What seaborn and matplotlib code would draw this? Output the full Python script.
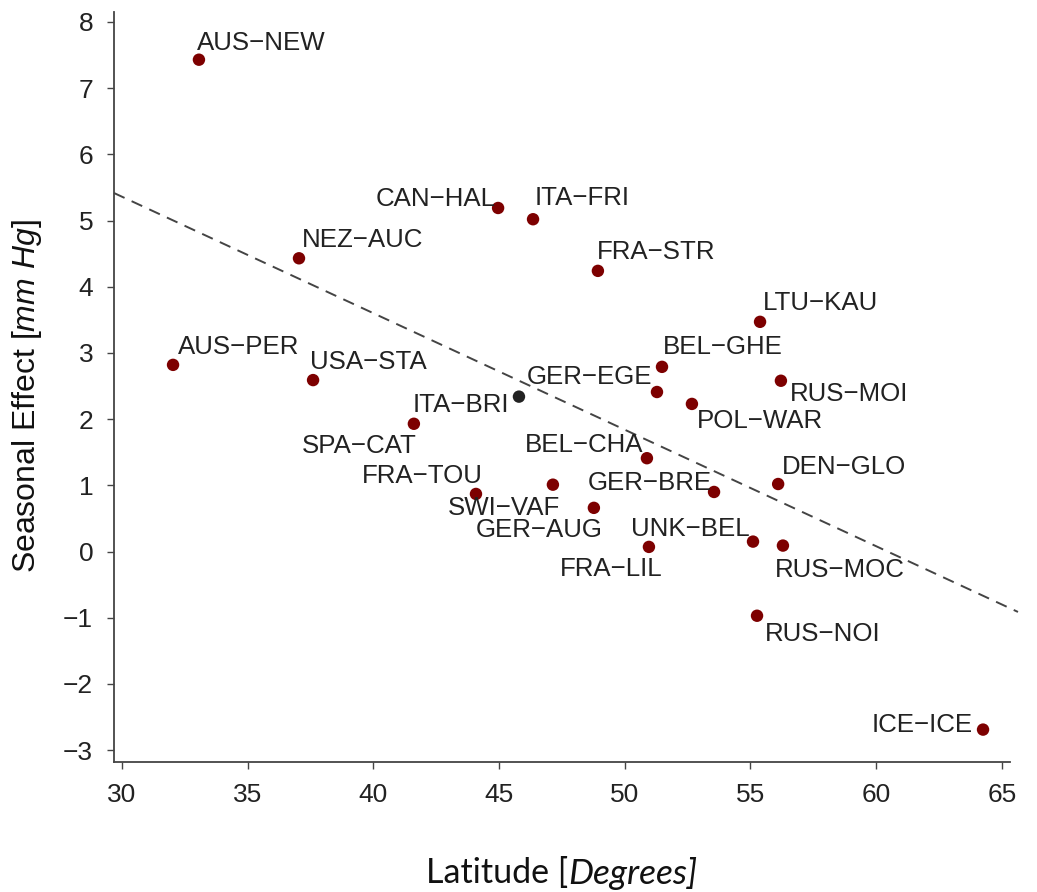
import numpy as np
import pandas as pd
import matplotlib
matplotlib.use("Agg")
import matplotlib.pyplot as plt
import seaborn as sns

# Study sites: latitude (degrees) and seasonal blood-pressure effect (mm Hg)
sites = [
    "AUS−NEW", "CAN−HAL", "ITA−FRI", "FRA−STR", "NEZ−AUC", "AUS−PER",
    "USA−STA", "ITA−BRI", "SPA−CAT", "GER−EGE", "BEL−GHE", "POL−WAR",
    "LTU−KAU", "RUS−MOI", "DEN−GLO", "BEL−CHA", "GER−BRE", "FRA−TOU",
    "SWI−VAF", "GER−AUG", "UNK−BEL", "FRA−LIL", "RUS−MOC", "RUS−NOI",
    "ICE−ICE",
]
latitude = [
    33.06, 44.96, 46.35, 48.93, 37.04, 32.03,
    37.60, 45.79, 41.61, 51.28, 51.48, 52.67,
    55.38, 56.21, 56.10, 50.88, 53.55, 44.08,
    47.14, 48.77, 55.10, 50.96, 56.29, 55.26,
    64.25,
]
seasonal_effect = [
    7.43, 5.19, 5.02, 4.24, 4.43, 2.82,
    2.59, 2.34, 1.93, 2.41, 2.79, 2.23,
    3.47, 2.58, 1.02, 1.41, 0.90, 0.87,
    1.01, 0.66, 0.15, 0.07, 0.09, -0.97,
    -2.69,
]
highlighted = ["ITA−BRI"]

# Fitted trend: effect = intercept + slope * latitude
fit_intercept = 10.64
fit_slope = -0.176

x_ticks = [30, 35, 40, 45, 50, 55, 60, 65]
y_ticks = [-3, -2, -1, 0, 1, 2, 3, 4, 5, 6, 7, 8]

# Label placement (pixel offsets from the point, horizontal alignment)
label_offsets = {
    "AUS−NEW": (-2, -19, "left"), "CAN−HAL": (-2, -11, "right"),
    "ITA−FRI": (2, -23, "left"), "FRA−STR": (-1, -21, "left"),
    "NEZ−AUC": (3, -20, "left"), "AUS−PER": (5, -20, "left"),
    "USA−STA": (-3, -20, "left"), "ITA−BRI": (-10, 6, "right"),
    "SPA−CAT": (3, 20, "right"), "GER−EGE": (-5, -17, "right"),
    "BEL−GHE": (1, -22, "left"), "POL−WAR": (5, 15, "left"),
    "LTU−KAU": (3, -21, "left"), "RUS−MOI": (9, 11, "left"),
    "DEN−GLO": (4, -19, "left"), "BEL−CHA": (-4, -15, "right"),
    "GER−BRE": (-2, -11, "right"), "FRA−TOU": (7, -20, "right"),
    "SWI−VAF": (7, 21, "right"), "GER−AUG": (9, 20, "right"),
    "UNK−BEL": (-3, -15, "right"), "FRA−LIL": (14, 20, "right"),
    "RUS−MOC": (-8, 22, "left"), "RUS−NOI": (8, 16, "left"),
    "ICE−ICE": (-10, -7, "right"),
}

df = pd.DataFrame({"site": sites, "latitude": latitude,
                   "effect": seasonal_effect})
df["group"] = np.where(df["site"].isin(highlighted), "ref", "site")

sns.set_style("ticks")
plt.rcParams["font.family"] = ["Liberation Sans", "DejaVu Sans"]
plt.rcParams["mathtext.fontset"] = "custom"
plt.rcParams["mathtext.rm"] = "Liberation Sans"
plt.rcParams["mathtext.it"] = "Liberation Sans:italic"

fig = plt.figure(figsize=(10.37, 8.92), dpi=100)
ax = fig.add_axes([0.1099, 0.1457, 0.8640, 0.8408])

sns.scatterplot(data=df, x="latitude", y="effect", hue="group",
                palette={"site": "#7d0000", "ref": "#222222"},
                s=80, linewidth=0, legend=False, ax=ax, zorder=3)

# Dashed trend line across the plotting region
x_line = np.array([29.68, 65.64])
ax.plot(x_line, fit_intercept + fit_slope * x_line, ls=(0, (6, 4)),
        color="#444444", lw=1.4, clip_on=False, zorder=2)

for _, row in df.iterrows():
    dx, dy, ha = label_offsets[row["site"]]
    ax.annotate(row["site"], (row["latitude"], row["effect"]),
                xytext=(dx, -(dy + 9)), textcoords="offset pixels",
                ha=ha, va="baseline", fontsize=18.6, color="#222222")

ax.set_xlim(29.68, 65.32)
ax.set_ylim(-3.18, 8.15)
ax.set_xticks(x_ticks)
ax.set_yticks(y_ticks)
ax.set_yticklabels([str(v).replace("-", "−") for v in y_ticks])
ax.tick_params(axis="both", direction="out", length=5, width=1,
               color="#444444", labelsize=19, labelcolor="#222222", pad=10)

for side in ["top", "right"]:
    ax.spines[side].set_visible(False)
for side in ["left", "bottom"]:
    ax.spines[side].set_color("#444444")
    ax.spines[side].set_linewidth(1.3)

ax.set_ylabel(r"Seasonal Effect [$mm\ Hg$]", fontsize=23, color="#111111")
ax.yaxis.set_label_coords(-0.078, 0.488)
ax.set_xlabel("")
fig.text(568 / 1037, 1 - 873 / 892, "Latitude [", fontsize=24.5,
         family="Lato", ha="right", va="center", color="#111111")
fig.text(568 / 1037, 1 - 873 / 892, "Degrees]", fontsize=25.5, family="Lato",
         style="italic", ha="left", va="center", color="#111111")

fig.savefig("out.png", dpi=100)
